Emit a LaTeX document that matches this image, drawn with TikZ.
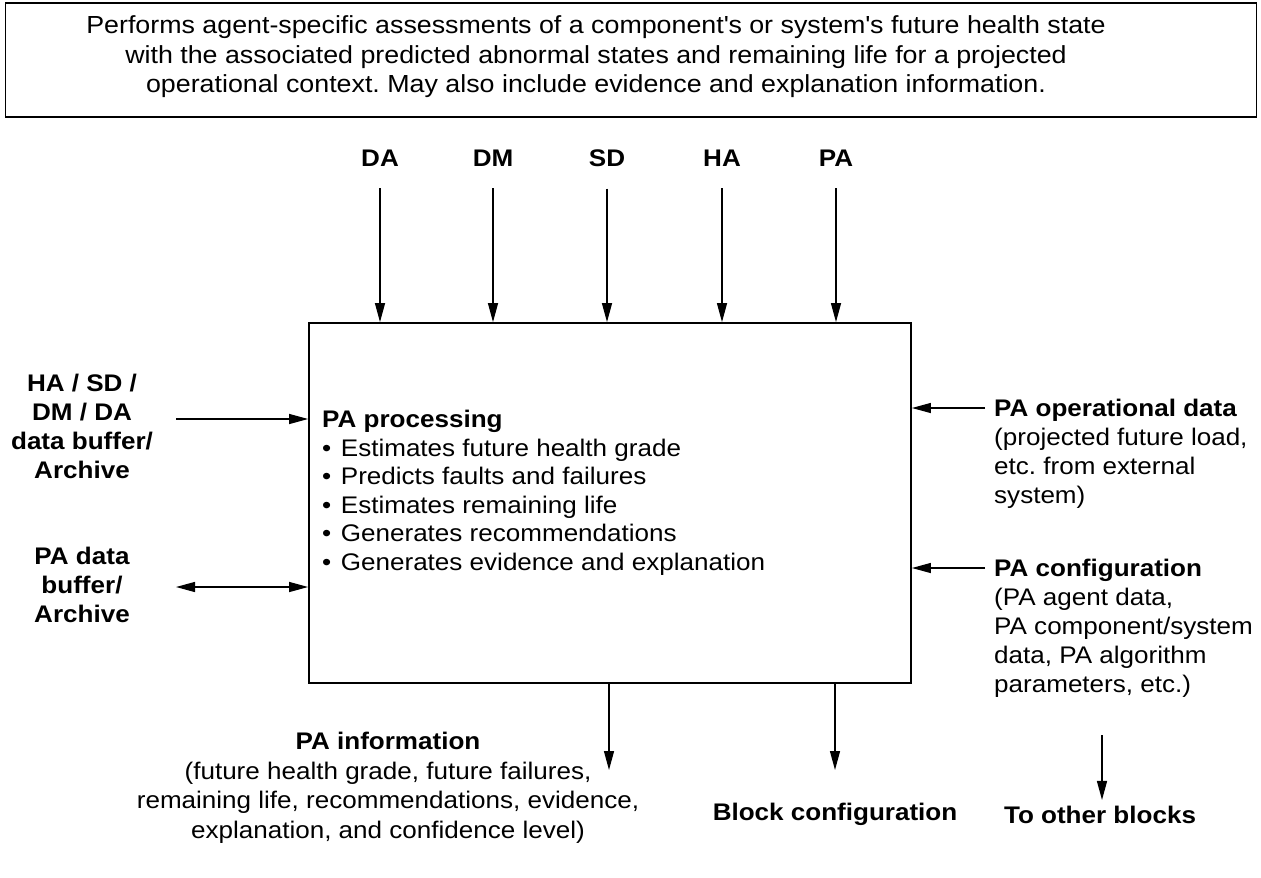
\documentclass[tikz,border=0pt]{standalone}
\usepackage{fontspec}
\setmainfont{Liberation Sans}[FakeStretch=1.085]
\usetikzlibrary{arrows.meta}

\begin{document}
\frenchspacing
\begin{tikzpicture}[x=1pt,y=-1pt,
  every node/.style={inner sep=0pt, font=\fontsize{24}{29}\selectfont},
  box/.style={draw, line width=1.8pt},
  arr/.style={line width=1.3pt, -{Triangle[length=19pt,width=10pt]}},
  dblarr/.style={line width=1.3pt, {Triangle[length=19pt,width=10pt]}-{Triangle[length=19pt,width=10pt]}},
  tag/.style={font=\fontsize{24}{29}\selectfont\bfseries},
  note/.style={align=left, anchor=north west},
  cnote/.style={align=center, anchor=north},
]
\useasboundingbox (0,0) rectangle (1261,878);

% description box
\node[box, minimum width=1251pt, minimum height=114pt] (desc) at (631,60) {};
\node[align=center, font=\fontsize{24.7}{29.5}\selectfont] (desctext) at (596,57)
  {Performs agent-specific assessments of a component\textquotesingle s or system\textquotesingle s future health state\\
   with the associated predicted abnormal states and remaining life for a projected\\
   operational context. May also include evidence and explanation information.};

% processing block
\node[box, minimum width=602pt, minimum height=360pt] (proc) at (610,503) {};
\node[note, font=\fontsize{24}{28.5}\selectfont] (proctext) at (322,410)
  {\textbf{PA processing}\\
   •\hspace{0.4em}Estimates future health grade\\
   •\hspace{0.4em}Predicts faults and failures\\
   •\hspace{0.4em}Estimates remaining life\\
   •\hspace{0.4em}Generates recommendations\\
   •\hspace{0.4em}Generates evidence and explanation};

% inputs from the top
\foreach \n/\t/\x in {da/DA/380, dm/DM/493, sd/SD/607, ha/HA/722, pa/PA/836}{
  \node[tag] (\n) at (\x,158) {\t};
  \draw[arr] ([yshift=-22pt]\n.south) -- (\n.south |- proc.north);
}

% inputs from the left
\node[tag, cnote] (hbuf) at (82,374) {HA / SD /\\DM / DA\\data buffer/\\Archive};
\node[tag, cnote] (pbuf) at (82,547) {PA data\\buffer/\\Archive};
\coordinate (hsrc) at (176,419);
\coordinate (psrc) at (176,587);
\draw[arr] (hsrc) -- (hsrc -| proc.west);
\draw[dblarr] (psrc) -- (psrc -| proc.west);

% inputs from the right
\node[note] (opdata) at (994,399)
  {\textbf{PA operational data}\\(projected future load,\\etc. from external\\system)};
\node[note] (config) at (994,559)
  {\textbf{PA configuration}\\(PA agent data,\\PA component/system\\data, PA algorithm\\parameters, etc.)};
\coordinate (opsrc) at (985,408);
\coordinate (cfgsrc) at (985,568);
\draw[arr] (opsrc) -- (opsrc -| proc.east);
\draw[arr] (cfgsrc) -- (cfgsrc -| proc.east);

% outputs
\node[cnote, font=\fontsize{24}{29.5}\selectfont] (info) at (388,732)
  {\textbf{PA information}\\(future health grade, future failures,\\remaining life, recommendations, evidence,\\explanation, and confidence level)};
\node[tag] (blk) at (835,814) {Block configuration};
\node[tag] (other) at (1100,815) {To other blocks};
\coordinate (infoend) at (609,770);
\coordinate (blkend) at (835,770);
\coordinate (cfgout) at (1102,735);
\draw[arr] (infoend |- proc.south) -- (infoend);
\draw[arr] (blkend |- proc.south) -- (blkend);
\draw[arr, shorten >=6pt] (cfgout) -- (cfgout |- other.north);
\end{tikzpicture}
\end{document}
